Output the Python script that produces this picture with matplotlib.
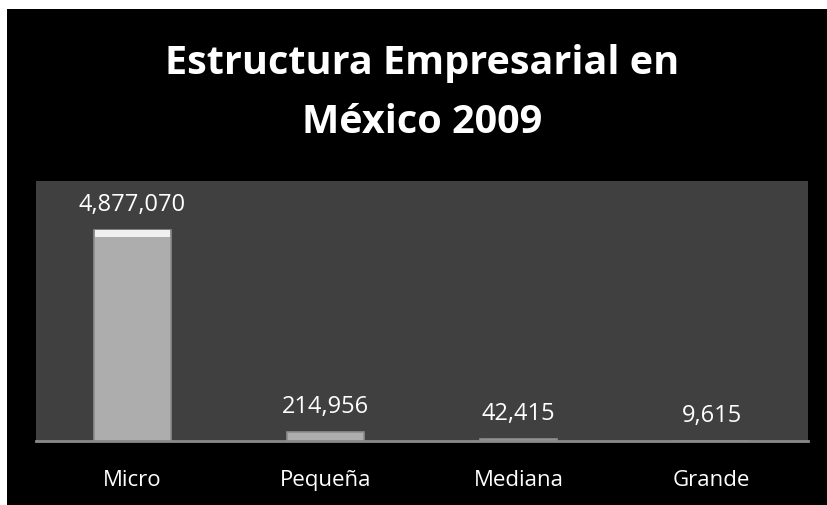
import matplotlib.pyplot as plt
import numpy as np
from matplotlib.patches import Rectangle

categories = ["Micro", "Pequeña", "Mediana", "Grande"]
values = [4877070, 214956, 42415, 9615]
title = "Estructura Empresarial en\nMéxico 2009"

fig = plt.figure(figsize=(8.27, 5.06), dpi=100, facecolor="white")
# black background panel (white margin on left and top)
fig.patches.append(Rectangle((7 / 827, 0), 1, 1 - 10 / 506, transform=fig.transFigure,
                             facecolor="black", edgecolor="none", zorder=-5))

ax = fig.add_axes([36 / 827, (506 - 442) / 506, 772 / 827, 260 / 506])
ax.set_facecolor("#404040")

x = np.arange(len(categories))
ax.bar(x, values, width=0.4, color="#adadad", edgecolor="#8c8c8c", linewidth=1.2, zorder=2)
# bevel highlight on top of each bar
hl = [v * 0.035 for v in values]
ax.bar(x, hl, width=0.39, bottom=[v - h for v, h in zip(values, hl)],
       color="#f0f0f0", linewidth=0, zorder=3)

for xi, v in zip(x, values):
    ax.annotate(f"{v:,}", (xi, v), xytext=(0, 10), textcoords="offset points",
                ha="center", va="bottom", color="white", fontsize=17,
                family="Open Sans")

ax.set_xlim(-0.5, len(categories) - 0.5)
ax.set_ylim(0, 6000000)
ax.set_yticks([])
ax.set_xticks(x)
ax.set_xticklabels(categories, color="white", fontsize=16, family="Open Sans")
ax.tick_params(axis="x", length=0, pad=20)
for s in ["top", "left", "right"]:
    ax.spines[s].set_visible(False)
ax.spines["bottom"].set_color("#8a8a8a")
ax.spines["bottom"].set_linewidth(2)

fig.text(422 / 827, 1 - 93 / 506, title, ha="center", va="center", color="white",
         fontsize=28.5, fontweight="bold", family="Open Sans", linespacing=1.65)

fig.savefig("out.png", dpi=100, facecolor=fig.get_facecolor())
plt.close(fig)
